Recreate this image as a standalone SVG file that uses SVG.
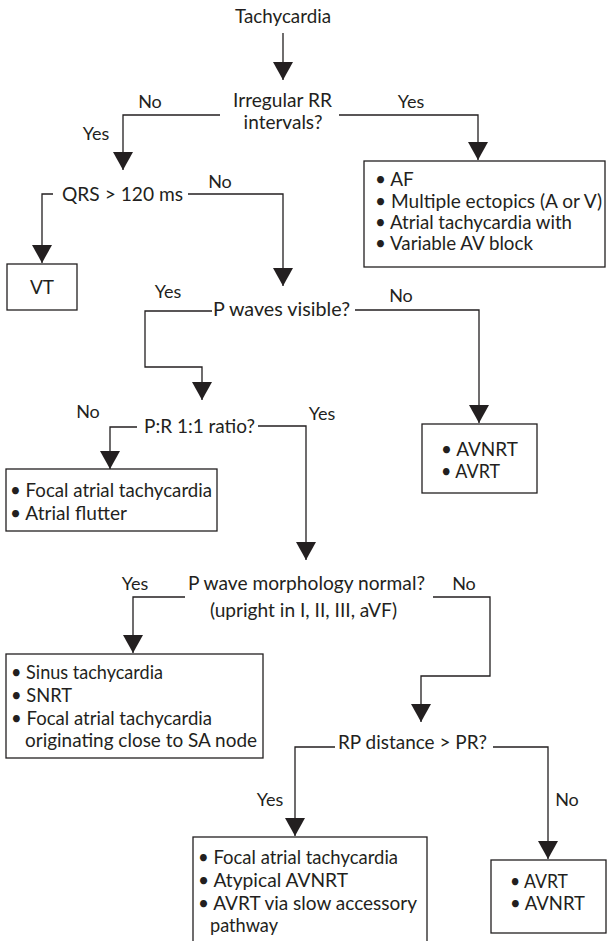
<svg xmlns="http://www.w3.org/2000/svg" width="608" height="941" viewBox="0 0 608 941">
<style>
text{font-family:Lato,"Liberation Sans",sans-serif;font-size:19px;fill:#231f20}
.m{text-anchor:middle}
.l{font-size:18px}
.c{fill:none;stroke:#231f20;stroke-width:1.3}
.b{fill:#fff;stroke:#231f20;stroke-width:1.3}
</style>
<defs>
<marker id="ah" markerUnits="userSpaceOnUse" markerWidth="18" markerHeight="20" viewBox="0 0 18 20" refX="18" refY="10" orient="auto">
<path d="M0,0 L18,10 L0,20 z" fill="#231f20"/>
</marker>
</defs>
<g id="connectors">
<path class="c" d="M283,33 V80" marker-end="url(#ah)"/>
<path class="c" d="M220,115 H123 V170" marker-end="url(#ah)"/>
<path class="c" d="M339,115 H478 V160" marker-end="url(#ah)"/>
<path class="c" d="M53,194 H42 V263" marker-end="url(#ah)"/>
<path class="c" d="M188,194 H283 V286" marker-end="url(#ah)"/>
<path class="c" d="M212,311 H145 V367 H202 V400" marker-end="url(#ah)"/>
<path class="c" d="M355,310 H479 V423" marker-end="url(#ah)"/>
<path class="c" d="M137,427 H110 V469" marker-end="url(#ah)"/>
<path class="c" d="M258,426 H306 V560" marker-end="url(#ah)"/>
<path class="c" d="M185,597 H133 V653" marker-end="url(#ah)"/>
<path class="c" d="M433,597 H490 V676 H421 V722" marker-end="url(#ah)"/>
<path class="c" d="M335,747 H295 V836" marker-end="url(#ah)"/>
<path class="c" d="M493,747 H548 V859" marker-end="url(#ah)"/>
<text class="m l" x="150" y="108">No</text>
<text class="m l" x="96" y="140">Yes</text>
<text class="m l" x="411" y="108">Yes</text>
<text class="m l" x="220" y="188">No</text>
<text class="m l" x="168" y="298">Yes</text>
<text class="m l" x="401" y="302">No</text>
<text class="m l" x="88" y="418">No</text>
<text class="m l" x="322" y="420">Yes</text>
<text class="m l" x="135" y="590">Yes</text>
<text class="m l" x="464" y="590">No</text>
<text class="m l" x="270" y="806">Yes</text>
<text class="m l" x="567" y="806">No</text>
</g>
<g id="start"><text class="m" x="283" y="23" textLength="96" lengthAdjust="spacingAndGlyphs">Tachycardia</text></g>
<g id="q-irregular">
<text class="m" x="282.5" y="107" textLength="99" lengthAdjust="spacingAndGlyphs">Irregular RR</text>
<text class="m" x="283" y="129">intervals?</text>
</g>
<g id="box-af">
<rect class="b" x="364" y="161" width="241" height="106"/>
<text x="375" y="186">• AF</text>
<text x="375" y="208" textLength="227" lengthAdjust="spacingAndGlyphs">• Multiple ectopics (A or V)</text>
<text x="375" y="229" textLength="197" lengthAdjust="spacingAndGlyphs">• Atrial tachycardia with</text>
<text x="375" y="250" textLength="158" lengthAdjust="spacingAndGlyphs">• Variable AV block</text>
</g>
<g id="q-qrs"><text class="m" x="122.5" y="201" textLength="121" lengthAdjust="spacingAndGlyphs">QRS &gt; 120 ms</text></g>
<g id="box-vt"><rect class="b" x="7" y="264" width="70" height="46"/><text class="m" x="42" y="294">VT</text></g>
<g id="q-pwaves"><text class="m" x="281.5" y="316" textLength="137" lengthAdjust="spacingAndGlyphs">P waves visible?</text></g>
<g id="box-avnrt">
<rect class="b" x="422" y="424" width="115" height="69"/>
<text x="441" y="456" textLength="77" lengthAdjust="spacingAndGlyphs">• AVNRT</text>
<text x="441" y="478" textLength="59" lengthAdjust="spacingAndGlyphs">• AVRT</text>
</g>
<g id="q-pr"><text class="m" x="199.5" y="433" textLength="111" lengthAdjust="spacingAndGlyphs">P:R 1:1 ratio?</text></g>
<g id="box-focal">
<rect class="b" x="6" y="469" width="211" height="62"/>
<text x="10" y="497" textLength="202" lengthAdjust="spacingAndGlyphs">• Focal atrial tachycardia</text>
<text x="10" y="520" textLength="117" lengthAdjust="spacingAndGlyphs">• Atrial flutter</text>
</g>
<g id="q-morph">
<text class="m" x="306.5" y="590" textLength="237" lengthAdjust="spacingAndGlyphs">P wave morphology normal?</text>
<text class="m" x="303.5" y="617" textLength="187" lengthAdjust="spacingAndGlyphs">(upright in I, II, III, aVF)</text>
</g>
<g id="box-sinus">
<rect class="b" x="6" y="654" width="257" height="104"/>
<text x="11" y="679" textLength="152" lengthAdjust="spacingAndGlyphs">• Sinus tachycardia</text>
<text x="11" y="702" textLength="61" lengthAdjust="spacingAndGlyphs">• SNRT</text>
<text x="11" y="725" textLength="201" lengthAdjust="spacingAndGlyphs">• Focal atrial tachycardia</text>
<text x="25" y="747" textLength="232" lengthAdjust="spacingAndGlyphs">originating close to SA node</text>
</g>
<g id="q-rp"><text class="m" x="412.5" y="749" textLength="149" lengthAdjust="spacingAndGlyphs">RP distance &gt; PR?</text></g>
<g id="box-focal2">
<rect class="b" x="193" y="837" width="234" height="115"/>
<text x="198" y="864" textLength="200" lengthAdjust="spacingAndGlyphs">• Focal atrial tachycardia</text>
<text x="198" y="887" textLength="150" lengthAdjust="spacingAndGlyphs">• Atypical AVNRT</text>
<text x="198" y="910" textLength="219" lengthAdjust="spacingAndGlyphs">• AVRT via slow accessory</text>
<text x="210" y="932" textLength="68" lengthAdjust="spacingAndGlyphs">pathway</text>
</g>
<g id="box-avrt">
<rect class="b" x="491" y="860" width="115" height="73"/>
<text x="510" y="888" textLength="58" lengthAdjust="spacingAndGlyphs">• AVRT</text>
<text x="510" y="910" textLength="75" lengthAdjust="spacingAndGlyphs">• AVNRT</text>
</g>
</svg>
